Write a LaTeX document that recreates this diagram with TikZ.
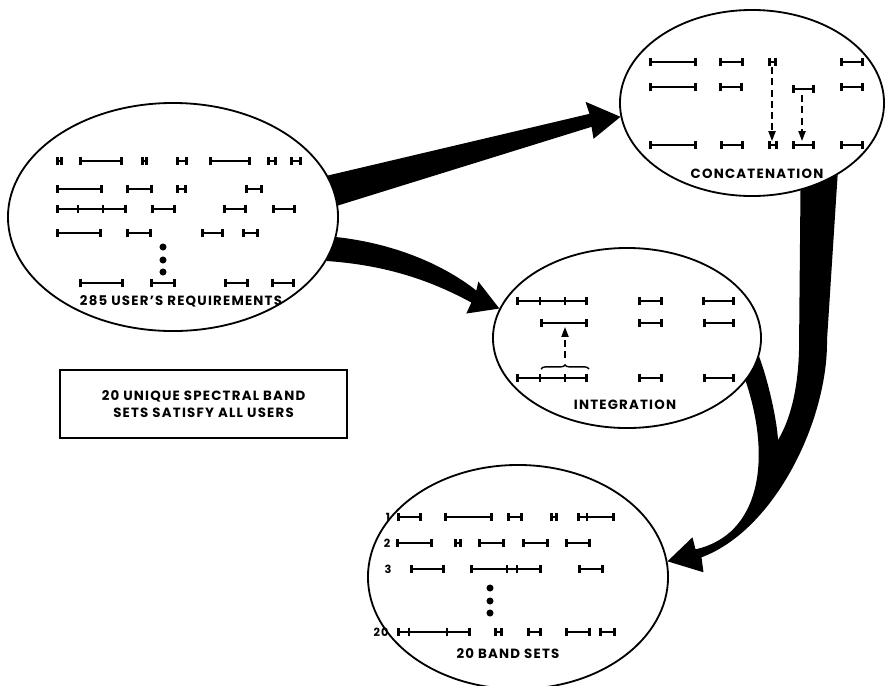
\documentclass[tikz,border=0pt]{standalone}
\usepackage{fontspec}
\setmainfont{Poppins}[LetterSpace=9]
\usetikzlibrary{arrows.meta,shapes.geometric,calc,backgrounds,decorations.pathreplacing}

\begin{document}
\begin{tikzpicture}[x=0.025cm, y=-0.025cm,
    ell/.style={ellipse, draw, line width=1.3pt, fill=white, inner sep=0pt},
    lbl/.style={font=\fontsize{9.5}{12}\selectfont\bfseries, inner sep=0pt},
    num/.style={font=\fontsize{8}{10}\selectfont\bfseries, inner sep=0pt},
    band/.style={line width=1.8pt, {Bar[width=6pt]}-{Bar[width=6pt]}},
    tickmark/.style={line width=1.3pt},
    dsh/.style={line width=1.2pt, dash pattern=on 5pt off 3pt,
      -{Triangle[length=7pt,width=5pt]}},
    blob/.style={fill=black}]
  \useasboundingbox (0,0) rectangle (886,685);

  % the four sets of bands
  \node[ell, minimum width=8.25cm, minimum height=5.7cm] (users) at (173,217) {};
  \node[ell, minimum width=6.6cm, minimum height=4.65cm] (concat) at (752,103) {};
  \node[ell, minimum width=6.7cm, minimum height=4.5cm] (integ) at (627,338) {};
  \node[ell, minimum width=7.5cm, minimum height=5.6cm] (bands) at (518,577) {};

  \node[draw, line width=1.3pt, minimum width=7.175cm, minimum height=1.7cm,
    align=center, lbl] (note) at (203.5,404)
    {20 UNIQUE SPECTRAL BAND\\SETS SATISFY ALL USERS};

  % fat tapered arrows, kept under the ellipses
  \begin{scope}[on background layer]
    \fill (users.15) -- ($(concat.186)+(-31,-3)$) -- ($(concat.186)+(-35,-15)$)
      -- (concat.186) -- ($(concat.186)+(-27,22)$) -- ($(concat.186)+(-29,10)$)
      -- (users.4) -- cycle;
    \fill (users.-7) .. controls (390,243) and (440,262) .. ($(integ.167)+(-23,-18)$)
      -- ($(integ.167)+(-21,-27)$) -- (integ.167) -- ($(integ.167)+(-33,5)$)
      -- ($(integ.167)+(-28,-6)$) .. controls (430,280) and (385,265) .. (users.-16)
      -- cycle;
    \fill (concat.-61) -- (799,350) .. controls (798,390) and (790,420) .. (778,440)
      .. controls (777,420) and (768,380) .. (integ.-8) -- (integ.-20)
      .. controls (772,460) and (760,535) .. ($(bands.6)+(28,-12)$)
      -- ($(bands.6)+(25,-24)$) -- (bands.6) -- ($(bands.6)+(36,11)$)
      -- ($(bands.6)+(34,-4)$) .. controls (775,530) and (828,420) .. (827,340)
      -- (concat.-40) -- cycle;
  \end{scope}

  % user requirements
  \foreach \a/\b/\y in {56/63/161, 79/123/161, 141/148/161, 176/188/161,
      209/251/161, 267/277/161, 290/302/161,
      56/103/189, 126/153/189, 176/187/189, 245/263/189,
      56/127/209, 151/176/209, 223/247/209, 272/296/209,
      56/102/233, 126/152/233, 201/224/233, 242/259/233,
      79/124/283, 150/176/283, 224/249/283, 271/295/283}
    \draw[band] (\a,\y) -- (\b,\y);
  \foreach \t in {78,103} \draw[tickmark] (\t,205) -- (\t,213);
  \foreach \y in {247,260,272} \fill[blob] (163,\y) circle[radius=2.5pt];
  \node[lbl] (usersLbl) at (181,301) {285 USER'S REQUIREMENTS};

  % concatenation
  \foreach \a/\b/\y in {649/697/62, 719/744/62, 768/777/62, 840/864/62,
      649/697/87, 719/743/87, 792/815/89, 840/864/87,
      649/697/145, 720/744/145, 768/778/145, 792/815/145, 840/864/145}
    \draw[band] (\a,\y) -- (\b,\y);
  \coordinate (cA) at (772,67);
  \coordinate (cB) at (772,141);
  \coordinate (cC) at (802,95);
  \coordinate (cD) at (802,141);
  \draw[dsh] (cA) -- (cB);
  \draw[dsh] (cC) -- (cD);
  \node[lbl] (concatLbl) at (757,174) {CONCATENATION};

  % integration
  \foreach \a/\b/\y in {516/588/301, 638/663/301, 702/735/301,
      540/588/323, 638/663/323, 703/735/323,
      516/588/378, 638/663/378, 703/735/378}
    \draw[band] (\a,\y) -- (\b,\y);
  \foreach \t in {540,565} {
    \draw[tickmark] (\t,297) -- (\t,305);
    \draw[tickmark] (\t,374) -- (\t,382);
  }
  \coordinate (iA) at (565,358);
  \coordinate (iB) at (565,327);
  \draw[dsh] (iA) -- (iB);
  \draw[line width=1pt, decorate, decoration={brace, amplitude=3pt}]
    (541,369) -- (589,369);
  \node[lbl] (integLbl) at (625,405) {INTEGRATION};

  % resulting band sets
  \foreach \a/\b/\y in {397/422/517, 444/493/517, 507/523/517, 550/558/517,
      577/615/517,
      396/433/543, 454/462/543, 478/505/543, 522/549/543, 565/591/543,
      410/445/569, 470/542/569, 578/604/569,
      397/471/632, 494/503/632, 527/542/632, 565/591/632, 599/616/632}
    \draw[band] (\a,\y) -- (\b,\y);
  \foreach \t/\y in {587/517, 507/569, 517/569, 409/632, 447/632}
    \draw[tickmark] (\t,\y-4) -- (\t,\y+4);
  \foreach \y in {588,601,613} \fill[blob] (490,\y) circle[radius=2.5pt];
  \node[num] (n1) at (388,517) {1};
  \node[num] (n2) at (387,543) {2};
  \node[num] (n3) at (388,569) {3};
  \node[num] (n20) at (381,632) {20};
  \node[lbl] (bandsLbl) at (508,654) {20 BAND SETS};
\end{tikzpicture}
\end{document}
